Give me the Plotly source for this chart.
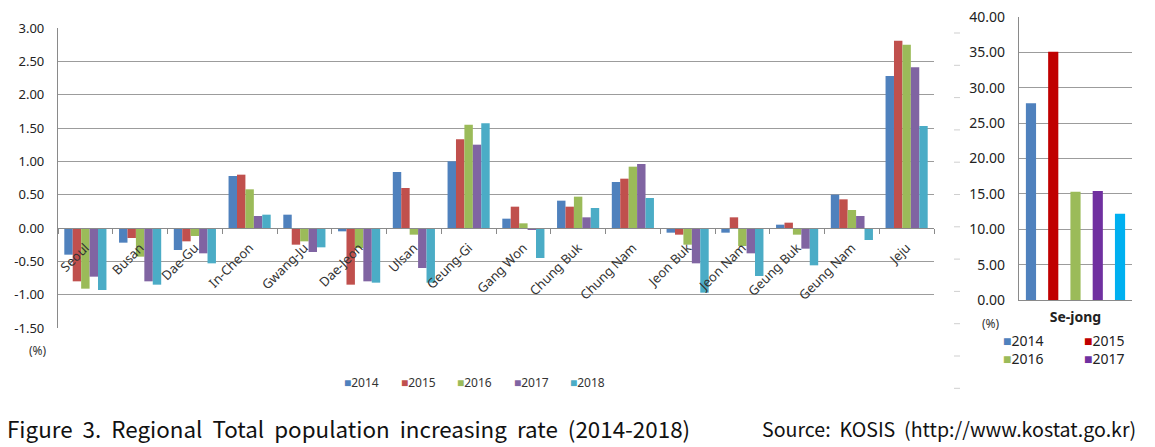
import plotly.graph_objects as go

# ---------------- data ----------------
regions = ["Seoul", "Busan", "Dae-Gu", "In-Cheon", "Gwang-Ju", "Dae-Jeon", "Ulsan",
           "Geung-Gi", "Gang Won", "Chung Buk", "Chung Nam", "Jeon Buk", "Jeon Nam",
           "Geung Buk", "Geung Nam", "Jeju"]
years = ["2014", "2015", "2016", "2017", "2018"]

rate_2014 = [-0.40, -0.22, -0.33, 0.78, 0.20, -0.05, 0.84, 1.00, 0.14, 0.41, 0.69, -0.07, -0.07, 0.05, 0.50, 2.28]
rate_2015 = [-0.80, -0.15, -0.20, 0.80, -0.25, -0.85, 0.60, 1.33, 0.32, 0.32, 0.74, -0.10, 0.16, 0.08, 0.43, 2.81]
rate_2016 = [-0.91, -0.43, -0.12, 0.58, -0.20, -0.30, -0.10, 1.55, 0.07, 0.47, 0.92, -0.25, -0.27, -0.10, 0.27, 2.75]
rate_2017 = [-0.73, -0.80, -0.38, 0.18, -0.36, -0.80, -0.60, 1.25, -0.03, 0.16, 0.96, -0.53, -0.38, -0.31, 0.18, 2.41]
rate_2018 = [-0.93, -0.85, -0.53, 0.20, -0.29, -0.82, -0.82, 1.57, -0.45, 0.30, 0.45, -0.97, -0.72, -0.56, -0.18, 1.53]

sejong_label = ["Se-jong"]
sejong_rates = [27.8, 35.1, 15.3, 15.4, 12.2]

left_ticks = [-1.5, -1.0, -0.5, 0.0, 0.5, 1.0, 1.5, 2.0, 2.5, 3.0]
right_ticks = [0, 5, 10, 15, 20, 25, 30, 35, 40]

caption = "Figure 3. Regional Total population increasing rate (2014-2018)"
source = "Source: KOSIS (http://www.kostat.go.kr)"

# ---------------- styles ----------------
W, H = 1155, 447
left_colors = ["#4F81BD", "#C0504D", "#9BBB59", "#8064A2", "#4BACC6"]
right_colors = ["#4F81BD", "#C00000", "#9BBB59", "#7030A0", "#00B0F0"]
grid = "#9c9c9c"
font = "Noto Sans"


def px_x(p):
    return p / W


def px_y(p):
    return 1 - p / H


def spread(s):
    # wider word spacing as in the original figure caption
    return s.replace(" ", " \u00a0")


left_series = [rate_2014, rate_2015, rate_2016, rate_2017, rate_2018]

fig = go.Figure()
for yr, vals, col in zip(years, left_series, left_colors):
    fig.add_trace(go.Bar(x=regions, y=vals, name=yr, marker=dict(color=col, line=dict(width=0)),
                         xaxis="x", yaxis="y", showlegend=False))

n = len(years)
bw = 0.09
for i, (yr, v, col) in enumerate(zip(years, sejong_rates, right_colors)):
    center = (i - (n - 1) / 2) * 0.197
    fig.add_trace(go.Bar(x=sejong_label, y=[v], name=yr, marker=dict(color=col, line=dict(width=0)),
                         width=[bw], offset=[center - bw / 2],
                         xaxis="x2", yaxis="y2", showlegend=False))

# left plot geometry
yd0, yd1 = px_y(328), px_y(28)
ymin, ymax = left_ticks[0], left_ticks[-1]
zero_pos = yd0 + (0 - ymin) / (ymax - ymin) * (yd1 - yd0)

fig.update_layout(
    width=W, height=H,
    margin=dict(l=0, r=0, t=0, b=0, autoexpand=False),
    paper_bgcolor="white", plot_bgcolor="white",
    barmode="group", bargap=0.23, bargroupgap=0,
    font=dict(family=font, size=13, color="#222222"),
    xaxis=dict(domain=[px_x(58), px_x(934)], anchor="free", position=zero_pos,
               type="category", range=[-0.5, len(regions) - 0.5], automargin=False,
               showline=True, linecolor="#8a8a8a", linewidth=1.2,
               ticks="outside", tickson="boundaries", ticklen=5, tickcolor="#8a8a8a",
               showgrid=False, tickangle=-45, ticklabelstandoff=6,
               tickfont=dict(size=13, color="#333333")),
    yaxis=dict(domain=[yd0, yd1], range=[ymin, ymax], automargin=False,
               tickvals=left_ticks, ticktext=[f"{v:.2f}" for v in left_ticks],
               showgrid=True, gridcolor=grid, gridwidth=1.2, zeroline=False,
               showline=True, linecolor="#8a8a8a", linewidth=1.2,
               ticks="", ticklabelstandoff=10,
               tickfont=dict(size=13, color="#222222")),
    xaxis2=dict(domain=[px_x(1019), px_x(1132)], anchor="y2", type="category",
                range=[-0.5, 0.5], automargin=False,
                showline=True, linecolor="#8a8a8a", linewidth=1.2,
                showgrid=False, ticks="", ticklabelstandoff=4,
                tickfont=dict(size=14, color="#222222", weight="bold")),
    yaxis2=dict(domain=[px_y(300), px_y(17)], anchor="x2", automargin=False,
                range=[right_ticks[0], right_ticks[-1]],
                tickvals=right_ticks, ticktext=[f"{v:.2f}" for v in right_ticks],
                showgrid=True, gridcolor=grid, gridwidth=1.2, zeroline=False,
                showline=True, linecolor="#8a8a8a", linewidth=1.2,
                ticks="", ticklabelstandoff=10,
                tickfont=dict(size=14, color="#222222")),
)

ann = []
# unit labels
ann.append(dict(text="(%)", x=px_x(38), y=px_y(350), xref="paper", yref="paper",
                xanchor="center", yanchor="middle",
                showarrow=False, font=dict(size=12, color="#333333")))
ann.append(dict(text="(%)", x=px_x(991), y=px_y(323), xref="paper", yref="paper",
                xanchor="center", yanchor="middle",
                showarrow=False, font=dict(size=12, color="#333333")))

# left legend (manual, tight symbol/text spacing)
for i, (yr, col) in enumerate(zip(years, left_colors)):
    ann.append(dict(text=f'<span style="color:{col}">■</span>{yr}',
                    x=px_x(342 + i * 56.5), y=px_y(382), xref="paper", yref="paper",
                    xanchor="left", yanchor="middle", showarrow=False,
                    font=dict(size=12, color="#333333")))

# right legend (2 columns, first four years)
for i, (yr, col) in enumerate(zip(years[:4], right_colors[:4])):
    r, c = divmod(i, 2)
    ann.append(dict(text=f'<span style="color:{col}">■</span>{yr}',
                    x=px_x(1001 + c * 81), y=px_y(340 + r * 18), xref="paper", yref="paper",
                    xanchor="left", yanchor="middle", showarrow=False,
                    font=dict(size=14, color="#222222")))

# caption and source
ann.append(dict(text=spread(caption), x=px_x(5), y=px_y(428), xref="paper", yref="paper",
                xanchor="left", yanchor="middle", showarrow=False,
                font=dict(family="Noto Sans CJK KR", size=22.4, color="#111111")))
ann.append(dict(text=spread(source), x=px_x(1138), y=px_y(428), xref="paper", yref="paper",
                xanchor="right", yanchor="middle", showarrow=False,
                font=dict(family="Noto Sans CJK KR", size=19.6, color="#111111")))

fig.update_layout(annotations=ann)

# faint dash marks between the two charts
shapes = []
for k in range(12):
    yy = 33 + k * 32.3
    shapes.append(dict(type="line", xref="paper", yref="paper",
                       x0=px_x(954), x1=px_x(960), y0=px_y(yy), y1=px_y(yy),
                       line=dict(color="#cfcfcf", width=1)))
fig.update_layout(shapes=shapes)

fig.write_html("out.html", config={"displayModeBar": False},
               post_script="document.body.style.margin='0';document.body.style.overflow='hidden';")
